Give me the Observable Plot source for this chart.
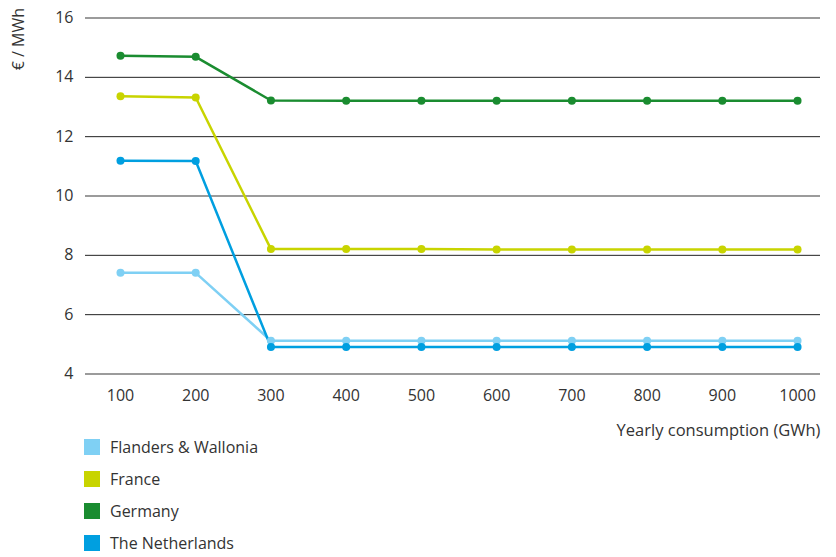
<!DOCTYPE html>
<html>
<head>
<meta charset="utf-8">
<script src="https://cdn.jsdelivr.net/npm/d3@7"></script>
<script src="https://cdn.jsdelivr.net/npm/@observablehq/plot@0.6"></script>
<style>
  body { margin: 0; background: #fff; font-family: "Open Sans", "Noto Sans", sans-serif; }
  #chart svg { display: block; overflow: visible; }
  .legend { margin-left: 84px; margin-top: -9px; }
  .legend .item { display: flex; align-items: center; height: 32px; font-size: 16px; color: #333; }
  .legend .sw { width: 16px; height: 16px; margin-right: 10px; }
</style>
</head>
<body>
<div id="chart"></div>
<div class="legend" id="legend"></div>
<script>
const consumption = [100, 200, 300, 400, 500, 600, 700, 800, 900, 1000];
const seriesNames = ["Flanders & Wallonia", "France", "Germany", "The Netherlands"];
const seriesColors = ["#7fd0f4", "#c8d400", "#1a8c30", "#009fe0"];
const flanders    = [7.41, 7.41, 5.12, 5.12, 5.12, 5.12, 5.12, 5.12, 5.12, 5.12];
const france      = [13.36, 13.32, 8.21, 8.21, 8.21, 8.20, 8.20, 8.20, 8.20, 8.20];
const germany     = [14.73, 14.69, 13.22, 13.21, 13.21, 13.21, 13.21, 13.21, 13.21, 13.21];
const netherlands = [11.19, 11.18, 4.91, 4.91, 4.91, 4.91, 4.91, 4.91, 4.91, 4.91];
const yTicks = [4, 6, 8, 10, 12, 14, 16];
const xLabel = "Yearly consumption (GWh)";
const yLabel = "€ / MWh";

const seriesValues = [flanders, france, germany, netherlands];
const data = [];
seriesNames.forEach((name, i) => {
  consumption.forEach((c, j) => data.push({series: name, x: c, y: seriesValues[i][j]}));
});

const chart = Plot.plot({
  width: 836,
  height: 440,
  marginTop: 17.5,
  marginBottom: 66.5,
  marginLeft: 85,
  marginRight: 16,
  style: {fontFamily: "'Open Sans', 'Noto Sans', sans-serif", fontSize: "16px", color: "#333", overflow: "visible"},
  x: {domain: [53.5, 1030.5]},
  y: {domain: [4, 16]},
  color: {domain: seriesNames, range: seriesColors},
  marks: [
    Plot.ruleY(yTicks, {stroke: d => (d % 6 === 4 ? "#7a7a7a" : "#222"), strokeWidth: d => (d % 6 === 4 ? 1.6 : 1)}),
    Plot.axisX(consumption, {tickSize: 0, tickPadding: 16, label: null, fontSize: 16, tickFormat: d => String(d)}),
    Plot.axisY(yTicks, {tickSize: 0, tickPadding: 12, label: null, fontSize: 16, tickFormat: d => String(d)}),
    Plot.line(data, {x: "x", y: "y", z: "series", stroke: "series", strokeWidth: 2.5}),
    Plot.dot(data, {x: "x", y: "y", fill: "series", r: 4}),
    Plot.text([xLabel], {frameAnchor: "bottom-right", dy: 62, dx: 0, textAnchor: "end", fontSize: 16.5, fill: "#333"}),
    Plot.text([yLabel], {frameAnchor: "top-left", dx: -73, dy: -10, rotate: -90, textAnchor: "end", fontSize: 16, fill: "#333"})
  ]
});
document.getElementById("chart").appendChild(chart);

const legend = document.getElementById("legend");
seriesNames.forEach((name, i) => {
  const item = document.createElement("div");
  item.className = "item";
  const sw = document.createElement("span");
  sw.className = "sw";
  sw.style.background = seriesColors[i];
  const lab = document.createElement("span");
  lab.textContent = name;
  item.appendChild(sw);
  item.appendChild(lab);
  legend.appendChild(item);
});
</script>
</body>
</html>
